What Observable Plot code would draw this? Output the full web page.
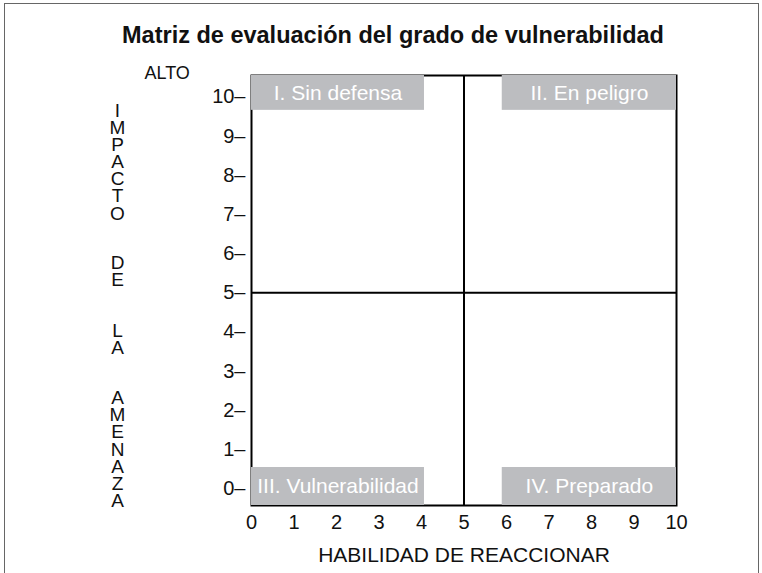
<!DOCTYPE html>
<html>
<head>
<meta charset="utf-8">
<script src="https://cdn.jsdelivr.net/npm/d3@7"></script>
<script src="https://cdn.jsdelivr.net/npm/@observablehq/plot@0.6"></script>
<style>
  html, body { margin: 0; padding: 0; background: #fff; }
  #wrap { position: relative; width: 762px; height: 573px; overflow: hidden; font-family: "Liberation Sans", Arial, sans-serif; }
  #border { position: absolute; left: 4px; top: 3px; width: 755px; height: 640px; border: 1.5px solid #666; box-sizing: border-box; }
  #chart { position: absolute; left: 0; top: 0; }
</style>
</head>
<body>
<div id="wrap"><div id="border"></div><div id="chart"></div></div>
<script>
// ---- data ----
const titleText = "Matriz de evaluación del grado de vulnerabilidad";
const xLabel = "HABILIDAD DE REACCIONAR";
const yTopLabel = "ALTO";
const yWords = ["IMPACTO", "DE", "LA", "AMENAZA"];
const xTicks = [0, 1, 2, 3, 4, 5, 6, 7, 8, 9, 10];
const yTicks = [0, 1, 2, 3, 4, 5, 6, 7, 8, 9, 10];
const quadrantNames = ["I. Sin defensa", "II. En peligro", "III. Vulnerabilidad", "IV. Preparado"];
const quadX1 = [0, 5.9, 0, 5.9];
const quadX2 = [4.07, 10, 4.07, 10];
const quadY1 = [9.66, 9.66, -0.43, -0.43];
const quadY2 = [10.55, 10.55, 0.54, 0.54];
const splitX = 5;
const splitY = 5;

const quads = quadrantNames.map((name, i) => ({name, x1: quadX1[i], x2: quadX2[i], y1: quadY1[i], y2: quadY2[i]}));

// stacked vertical label: each word starts after the previous word plus two blank lines
const letterStep = 16.9;
const glyphAdvance = 20.8;
let lineIdx = 0;
const yWordRows = yWords.map(w => { const r = {word: w, start: lineIdx}; lineIdx += w.length + 2; return r; });

const font = "Liberation Sans, Arial, sans-serif";

const chart = Plot.plot({
  width: 762,
  height: 573,
  marginLeft: 251,
  marginRight: 86,
  marginTop: 75,
  marginBottom: 68,
  style: {fontFamily: font, background: "transparent", color: "#111"},
  x: {domain: [0, 10], label: null},
  y: {domain: [-0.43, 10.55], label: null},
  marks: [
    Plot.axisX({ticks: xTicks, tickSize: 0, tickPadding: 9, fontSize: 20, tickFormat: d => String(d), label: null}),
    Plot.axisY({ticks: yTicks, tickSize: 0, tickPadding: 6, fontSize: 20, tickFormat: d => d + "–", label: null}),
    Plot.ruleX([splitX], {stroke: "#000", strokeWidth: 2}),
    Plot.ruleY([splitY], {stroke: "#000", strokeWidth: 2}),
    Plot.frame({stroke: "#000", strokeWidth: 2}),
    Plot.rect(quads, {x1: "x1", x2: "x2", y1: "y1", y2: "y2", fill: "#bcbdc0"}),
    Plot.text(quads, {x: d => (d.x1 + d.x2) / 2, y: d => (d.y1 + d.y2) / 2, text: "name", fill: "#fff", fontSize: 21}),
    Plot.text([titleText], {frameAnchor: "top", dx: -71, dy: -40, lineAnchor: "middle", fontSize: 23.5, fontWeight: "bold", fill: "#111"}),
    Plot.text([yTopLabel], {frameAnchor: "top-left", dx: -107, dy: -2, lineAnchor: "middle", textAnchor: "start", fontSize: 18, fill: "#111"}),
    Plot.text([xLabel], {frameAnchor: "bottom", dy: 50, lineAnchor: "middle", fontSize: 21, fill: "#111"}),
    ...yWordRows.map(r => Plot.text([r.word], {frameAnchor: "top-left", dx: -134, dy: 11 + r.start * letterStep, lineAnchor: "top", textAnchor: "start", fontSize: 19, fill: "#111"}))
  ]
});
// render the y-axis words as upright vertical text (one text element per word)
const wordSet = new Set(yWords);
d3.select(chart).selectAll("text").filter(function() { return wordSet.has(this.textContent); })
  .each(function() {
    d3.select(this)
      .attr("dy", null)
      .style("writing-mode", "vertical-rl")
      .style("text-orientation", "upright")
      .style("letter-spacing", (letterStep - glyphAdvance) + "px")
      .attr("dominant-baseline", "central");
  });
document.getElementById("chart").appendChild(chart);
</script>
</body>
</html>
